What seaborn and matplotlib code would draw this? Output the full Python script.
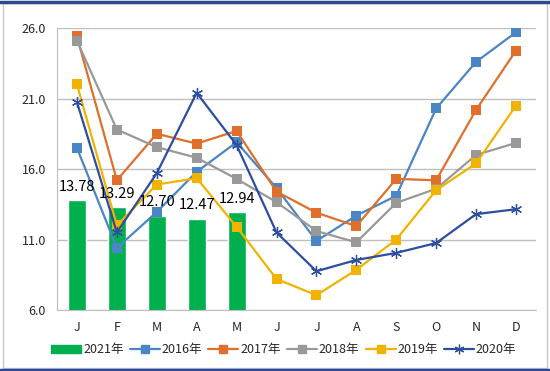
import seaborn as sns
import pandas as pd
import matplotlib
import matplotlib.pyplot as plt
from matplotlib.patches import Rectangle
from matplotlib.lines import Line2D

sns.set_style('white')
matplotlib.rcParams['font.family'] = ['Noto Sans CJK SC', 'DejaVu Sans']

# data
month_labels = ['J', 'F', 'M', 'A', 'M', 'J', 'J', 'A', 'S', 'O', 'N', 'D']
bar_values_2021 = [13.78, 13.29, 12.70, 12.47, 12.94]
y2016 = [17.5, 10.4, 12.95, 15.8, 17.9, 14.65, 10.9, 12.7, 14.1, 20.3, 23.6, 25.7]
y2017 = [25.4, 15.2, 18.5, 17.8, 18.7, 14.4, 12.9, 11.95, 15.3, 15.2, 20.2, 24.4]
y2018 = [25.1, 18.8, 17.55, 16.8, 15.3, 13.65, 11.6, 10.8, 13.6, 14.6, 17.0, 17.85]
y2019 = [22.0, 12.0, 14.9, 15.35, 11.9, 8.2, 7.05, 8.85, 11.0, 14.5, 16.4, 20.5]
y2020 = [20.75, 11.5, 15.7, 21.4, 17.7, 11.5, 8.75, 9.55, 10.05, 10.75, 12.8, 13.15]

series = {'2016年': y2016, '2017年': y2017, '2018年': y2018, '2019年': y2019, '2020年': y2020}
colors = {'2016年': '#4A86C5', '2017年': '#E06F2C', '2018年': '#999999',
          '2019年': '#F0B400', '2020年': '#2D4E9E'}
markers = {'2016年': 's', '2017年': 's', '2018年': 's', '2019年': 's', '2020年': (6, 2, 0)}
bar_color = '#00B04F'

fig = plt.figure(figsize=(5.5, 3.71), dpi=100)
ax = fig.add_axes([0.1036, 0.1644, 0.8709, 0.7601])

bars_df = pd.DataFrame({'month': range(len(bar_values_2021)), 'value': bar_values_2021})
sns.barplot(data=bars_df, x='month', y='value', native_scale=True, color=bar_color,
            width=0.45, ax=ax, saturation=1)

for name, vals in series.items():
    df = pd.DataFrame({'month': range(12), 'value': vals})
    c = colors[name]
    if markers[name] != 's':
        sns.lineplot(data=df, x='month', y='value', color=c, marker=markers[name],
                     markersize=8, markeredgecolor=c, markeredgewidth=0.9,
                     linewidth=1.6, ax=ax)
    else:
        sns.lineplot(data=df, x='month', y='value', color=c, marker='s', markersize=7,
                     markeredgecolor=c, markeredgewidth=0, linewidth=1.6, ax=ax)

for i, v in enumerate(bar_values_2021):
    ax.text(i, v + 0.45, f'{v:.2f}', ha='center', va='bottom', fontsize=10.5,
            color='black', zorder=5)

ax.set_xlim(-0.5, 11.5)
ax.set_ylim(6, 26)
ax.set_yticks([6, 11, 16, 21, 26])
ax.set_yticklabels([f'{t:.1f}' for t in [6, 11, 16, 21, 26]], fontsize=9)
ax.set_xticks(range(12))
ax.set_xticklabels(month_labels, fontsize=9)
ax.set_xticks([i - 0.5 for i in range(13)], minor=True)
ax.tick_params(axis='x', which='major', length=0, pad=8)
ax.tick_params(axis='x', which='minor', length=5, color='#A0A0A0', direction='out')
ax.tick_params(axis='y', length=5, color='#A0A0A0', pad=3)
ax.set_xlabel('')
ax.set_ylabel('')
ax.grid(axis='y', color='#BFBFBF', linewidth=1)
ax.set_axisbelow(True)
for s in ['top', 'right']:
    ax.spines[s].set_visible(False)
ax.spines['left'].set_color('#BFBFBF')
ax.spines['bottom'].set_color('#BFBFBF')

# legend
handles = [Rectangle((0, 0), 1, 1, color=bar_color)]
labels = ['2021年']
for name in series:
    c = colors[name]
    if markers[name] != 's':
        handles.append(Line2D([], [], color=c, marker=markers[name], markersize=7,
                              mec=c, mew=0.9, linewidth=1.6))
    else:
        handles.append(Line2D([], [], color=c, marker='s', markersize=6, mec=c, linewidth=1.6))
    labels.append(name)
fig.legend(handles, labels, loc='center', bbox_to_anchor=(0.516, 0.057), ncol=6,
           frameon=False, fontsize=9, handlelength=2.4, handletextpad=0.15,
           columnspacing=0.5)

# outer frame
fig.patches.append(Rectangle((0.005, 0.008), 0.99, 0.985, transform=fig.transFigure,
                             fill=False, edgecolor='#C8C8C8', linewidth=1))
fig.lines.append(Line2D([0, 1], [0.995, 0.995], transform=fig.transFigure,
                        color='#2E4A8E', linewidth=2.5))
fig.lines.append(Line2D([0, 1], [0.004, 0.004], transform=fig.transFigure,
                        color='#2E4A8E', linewidth=2.5))

fig.savefig('out.png', dpi=100)
